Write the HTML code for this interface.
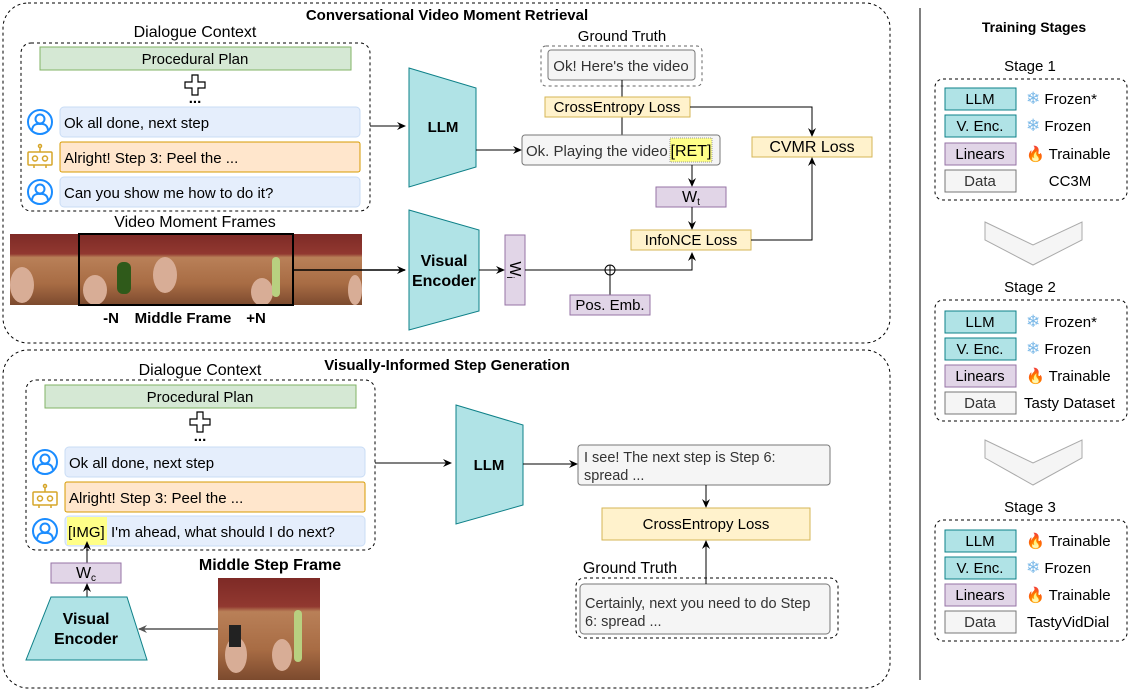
<html><head><style>body{margin:0;background:#fff}svg{display:block}text{font-family:"Liberation Sans",sans-serif}</style></head><body>
<svg width="1144" height="691" viewBox="0 0 1144 691" xmlns="http://www.w3.org/2000/svg">
<defs>
<marker id="a" markerWidth="10" markerHeight="10" refX="8" refY="5" orient="auto" markerUnits="userSpaceOnUse"><path d="M0,1 L9,5 L0,9 L3,5 z" fill="#000"/></marker>
<marker id="g" markerWidth="10" markerHeight="10" refX="8" refY="5" orient="auto" markerUnits="userSpaceOnUse"><path d="M0,1 L9,5 L0,9 L3,5 z" fill="#555"/></marker>
<linearGradient id="wood" x1="0" y1="0" x2="0" y2="1"><stop offset="0" stop-color="#7e2a26"/><stop offset="0.28" stop-color="#913830"/><stop offset="0.33" stop-color="#b98058"/><stop offset="0.7" stop-color="#a86c44"/><stop offset="1" stop-color="#7c4a2e"/></linearGradient>
<g id="user"><circle r="12" fill="none" stroke="#1a8cff" stroke-width="2"/><circle cy="-3" r="4.5" fill="none" stroke="#1a8cff" stroke-width="2"/><path d="M-8,8 Q-7,1 0,2 Q7,1 8,8" fill="none" stroke="#1a8cff" stroke-width="2"/></g>
<g id="bot" fill="none" stroke="#d6a528" stroke-width="1.5"><rect x="-12" y="-5" width="24" height="13" rx="1"/><circle cx="-5" cy="1.5" r="2.5"/><circle cx="5" cy="1.5" r="2.5"/><line x1="0" y1="-5" x2="0" y2="-10"/><circle cx="0" cy="-11" r="1.5"/><line x1="-6" y1="8" x2="-6" y2="11"/><line x1="6" y1="8" x2="6" y2="11"/></g>
<g id="plus"><path d="M-3,-10 h6 v7 h7 v6 h-7 v7 h-6 v-7 h-7 v-6 h7 z" fill="#fff" stroke="#000" stroke-width="1.2"/></g>
</defs>
<g font-size="15">
<!-- TOP -->
<rect x="3" y="3" width="887" height="340" rx="25" fill="none" stroke="#000" stroke-dasharray="3,3"/>
<text x="447" y="20" font-weight="bold" font-size="15" text-anchor="middle">Conversational Video Moment Retrieval</text>
<text x="195" y="37" text-anchor="middle" font-size="16">Dialogue Context</text>
<rect x="21" y="43" width="349" height="168" rx="10" fill="none" stroke="#000" stroke-dasharray="3,3"/>
<rect x="40" y="47" width="311" height="23" fill="#d5e8d4" stroke="#82b366"/>
<text x="195" y="64" text-anchor="middle">Procedural Plan</text>
<use href="#plus" x="195" y="85"/><text x="195" y="103" text-anchor="middle" font-weight="bold">...</text>
<use href="#user" x="40" y="122"/>
<rect x="60" y="107" width="300" height="30" rx="4" fill="#e5eefc" stroke="#c9dcf5"/><text x="64" y="128">Ok all done, next step</text>
<use href="#bot" x="40" y="157"/>
<rect x="60" y="142" width="300" height="30" rx="2" fill="#ffe6cc" stroke="#d79b00"/><text x="64" y="163">Alright! Step 3: Peel the ...</text>
<use href="#user" x="40" y="192"/>
<rect x="60" y="177" width="300" height="30" rx="4" fill="#e5eefc" stroke="#c9dcf5"/><text x="64" y="198">Can you show me how to do it?</text>
<line x1="370" y1="126" x2="405" y2="126" stroke="#000" marker-end="url(#a)"/>
<path d="M409,68 L476,88 L476,167 L409,187 z" fill="#b0e3e6" stroke="#0e8088"/>
<text x="443" y="132" text-anchor="middle" font-weight="bold" font-size="15">LLM</text>
<text x="195" y="227" text-anchor="middle" font-size="16">Video Moment Frames</text>
<rect x="10" y="234" width="352" height="71" fill="url(#wood)"/>
<g fill="#d8ad96"><ellipse cx="22" cy="285" rx="12" ry="18"/><ellipse cx="95" cy="290" rx="12" ry="15"/><ellipse cx="165" cy="275" rx="12" ry="18"/><ellipse cx="262" cy="292" rx="11" ry="14"/><ellipse cx="355" cy="290" rx="7" ry="15"/></g>
<rect x="117" y="262" width="14" height="32" rx="6" fill="#2f5a1a"/><rect x="272" y="257" width="8" height="40" rx="4" fill="#b8d080"/>
<rect x="79" y="234" width="214" height="71" fill="none" stroke="#000" stroke-width="2"/>
<text x="111" y="323" text-anchor="middle" font-weight="bold">-N</text>
<text x="183" y="323" text-anchor="middle" font-weight="bold">Middle Frame</text>
<text x="256" y="323" text-anchor="middle" font-weight="bold">+N</text>
<line x1="293" y1="270" x2="405" y2="270" stroke="#000" stroke-width="1.5" marker-end="url(#a)"/>
<path d="M409,210 L479,230 L479,311 L409,330 z" fill="#b0e3e6" stroke="#0e8088"/>
<text x="444" y="266" text-anchor="middle" font-weight="bold" font-size="16">Visual</text>
<text x="444" y="286" text-anchor="middle" font-weight="bold" font-size="16">Encoder</text>
<line x1="479" y1="270" x2="504" y2="270" stroke="#000" marker-end="url(#a)"/>
<rect x="505" y="235" width="20" height="70" fill="#e1d5e7" stroke="#9673a6"/>
<text x="0" y="0" transform="translate(510,270) rotate(90)" text-anchor="middle" font-size="16">W<tspan font-size="10" dy="3">i</tspan></text>
<path d="M525,270 H692 V253" fill="none" stroke="#000" marker-end="url(#a)"/>
<circle cx="610" cy="270" r="5" fill="#fff" stroke="#000"/><path d="M605,270h10M610,265v10" stroke="#000"/>
<line x1="610" y1="275" x2="610" y2="295" stroke="#000"/>
<rect x="570" y="295" width="80" height="20" fill="#e1d5e7" stroke="#9673a6"/><text x="610" y="310" text-anchor="middle">Pos. Emb.</text>
<text x="622" y="41" text-anchor="middle" font-size="15">Ground Truth</text>
<rect x="541" y="46" width="161" height="40" rx="5" fill="none" stroke="#666" stroke-dasharray="3,3"/>
<rect x="548" y="50" width="147" height="30" rx="3" fill="#f5f5f5" stroke="#777"/><text x="621" y="71" text-anchor="middle" fill="#333">Ok! Here's the video</text>
<line x1="622" y1="80" x2="622" y2="135" stroke="#000"/>
<rect x="545" y="97" width="145" height="20" fill="#fff2cc" stroke="#d6b656"/><text x="617" y="112" text-anchor="middle">CrossEntropy Loss</text>
<line x1="476" y1="150" x2="521" y2="150" stroke="#000" marker-end="url(#a)"/>
<rect x="522" y="135" width="198" height="30" rx="3" fill="#f5f5f5" stroke="#777"/>
<rect x="670" y="138" width="42" height="24" fill="#ffff88" stroke="#999" stroke-dasharray="1,1"/>
<text x="526" y="156" fill="#333">Ok. Playing the video</text><text x="691" y="156" text-anchor="middle" font-size="16">[RET]</text>
<path d="M690,107 H812 V136" fill="none" stroke="#000" marker-end="url(#a)"/>
<rect x="752" y="137" width="120" height="20" fill="#fff2cc" stroke="#d6b656"/><text x="812" y="152" text-anchor="middle" font-size="16">CVMR Loss</text>
<line x1="692" y1="165" x2="692" y2="186" stroke="#000" marker-end="url(#a)"/>
<rect x="656" y="187" width="70" height="20" fill="#e1d5e7" stroke="#9673a6"/><text x="691" y="202" text-anchor="middle" font-size="16">W<tspan font-size="10" dy="3">t</tspan></text>
<line x1="692" y1="207" x2="692" y2="229" stroke="#000" marker-end="url(#a)"/>
<rect x="631" y="230" width="120" height="20" fill="#fff2cc" stroke="#d6b656"/><text x="691" y="245" text-anchor="middle">InfoNCE Loss</text>
<path d="M751,240 H812 V158" fill="none" stroke="#000" marker-end="url(#a)"/>
<!-- BOTTOM -->
<rect x="3" y="350" width="887" height="338" rx="25" fill="none" stroke="#000" stroke-dasharray="3,3"/>
<text x="447" y="370" font-weight="bold" font-size="15" text-anchor="middle">Visually-Informed Step Generation</text>
<text x="200" y="375" text-anchor="middle" font-size="16">Dialogue Context</text>
<rect x="26" y="380" width="349" height="170" rx="10" fill="none" stroke="#000" stroke-dasharray="3,3"/>
<rect x="45" y="385" width="311" height="23" fill="#d5e8d4" stroke="#82b366"/><text x="200" y="402" text-anchor="middle">Procedural Plan</text>
<use href="#plus" x="200" y="422"/><text x="200" y="441" text-anchor="middle" font-weight="bold">...</text>
<use href="#user" x="45" y="462"/>
<rect x="65" y="447" width="300" height="30" rx="4" fill="#e5eefc" stroke="#c9dcf5"/><text x="69" y="468">Ok all done, next step</text>
<use href="#bot" x="45" y="497"/>
<rect x="65" y="482" width="300" height="30" rx="2" fill="#ffe6cc" stroke="#d79b00"/><text x="69" y="503">Alright! Step 3: Peel the ...</text>
<use href="#user" x="45" y="531"/>
<rect x="65" y="516" width="300" height="30" rx="4" fill="#e5eefc" stroke="#c9dcf5"/>
<rect x="67" y="517" width="40" height="28" fill="#ffff88"/>
<text x="68" y="537" font-size="15">[IMG]</text><text x="111" y="537">I'm ahead, what should I do next?</text>
<line x1="375" y1="463" x2="451" y2="463" stroke="#000" marker-end="url(#a)"/>
<path d="M456,405 L523,425 L523,505 L456,524 z" fill="#b0e3e6" stroke="#0e8088"/>
<text x="489" y="470" text-anchor="middle" font-weight="bold" font-size="15">LLM</text>
<line x1="523" y1="464" x2="577" y2="464" stroke="#000" marker-end="url(#a)"/>
<rect x="578" y="445" width="252" height="40" rx="3" fill="#f5f5f5" stroke="#777"/>
<text x="584" y="462" fill="#333" font-size="14.5">I see! The next step is Step 6:</text><text x="584" y="480" fill="#333" font-size="14.5">spread ...</text>
<line x1="706" y1="485" x2="706" y2="507" stroke="#000" marker-end="url(#a)"/>
<rect x="602" y="508" width="208" height="32" fill="#fff2cc" stroke="#d6b656"/><text x="706" y="529" text-anchor="middle">CrossEntropy Loss</text>
<text x="630" y="573" text-anchor="middle" font-size="16">Ground Truth</text>
<rect x="576" y="578" width="262" height="60" rx="8" fill="none" stroke="#000" stroke-dasharray="3,3"/>
<rect x="580" y="584" width="250" height="50" rx="4" fill="#f5f5f5" stroke="#777"/>
<text x="585" y="608" fill="#333" font-size="14.5">Certainly, next you need to do Step</text><text x="585" y="626" fill="#333" font-size="14.5">6: spread ...</text>
<line x1="706" y1="584" x2="706" y2="541" stroke="#000" marker-end="url(#a)"/>
<line x1="87" y1="563" x2="87" y2="542" stroke="#000" marker-end="url(#a)"/>
<rect x="51" y="563" width="70" height="20" fill="#e1d5e7" stroke="#9673a6"/><text x="86" y="578" text-anchor="middle" font-size="16">W<tspan font-size="10" dy="3">c</tspan></text>
<line x1="87" y1="597" x2="87" y2="584" stroke="#000" marker-end="url(#a)"/>
<path d="M51,597 L127,597 L147,660 L26,660 z" fill="#b0e3e6" stroke="#0e8088"/>
<text x="86" y="624" text-anchor="middle" font-weight="bold" font-size="16">Visual</text><text x="86" y="644" text-anchor="middle" font-weight="bold" font-size="16">Encoder</text>
<text x="270" y="570" text-anchor="middle" font-weight="bold" font-size="16">Middle Step Frame</text>
<rect x="218" y="578" width="102" height="102" fill="url(#wood)"/>
<ellipse cx="236" cy="655" rx="11" ry="18" fill="#d8ad96"/><ellipse cx="282" cy="655" rx="10" ry="16" fill="#d8ad96"/>
<rect x="229" y="625" width="12" height="22" fill="#222"/><rect x="294" y="610" width="8" height="52" rx="4" fill="#b8d080"/>
<line x1="218" y1="629" x2="139" y2="629" stroke="#555" stroke-width="1.5" marker-end="url(#g)"/>
<!-- RIGHT -->
<line x1="920" y1="8" x2="920" y2="680" stroke="#000"/>
<text x="1034" y="32" text-anchor="middle" font-weight="bold" font-size="14">Training Stages</text>
<text x="1030" y="71" text-anchor="middle">Stage 1</text>
<rect x="935" y="79" width="192" height="121" rx="8" fill="none" stroke="#000" stroke-dasharray="3,3"/>
<rect x="945" y="88" width="71" height="22" fill="#b0e3e6" stroke="#0e8088"/><text x="980" y="104" text-anchor="middle">LLM</text>
<rect x="945" y="115" width="71" height="22" fill="#b0e3e6" stroke="#0e8088"/><text x="980" y="131" text-anchor="middle">V. Enc.</text>
<rect x="945" y="143" width="71" height="22" fill="#e1d5e7" stroke="#9673a6"/><text x="980" y="159" text-anchor="middle">Linears</text>
<rect x="945" y="170" width="71" height="22" fill="#f5f5f5" stroke="#777"/><text x="980" y="186" text-anchor="middle" fill="#333">Data</text>
<text x="1026" y="104"><tspan fill="#7ab8e8" font-size="17">❄</tspan> Frozen*</text>
<text x="1026" y="131"><tspan fill="#7ab8e8" font-size="17">❄</tspan> Frozen</text>
<text x="1026" y="159"><tspan fill="#f06020">🔥</tspan> Trainable</text>
<text x="1070" y="186" text-anchor="middle">CC3M</text>
<path d="M985,222 L1033,245 L1082,222 L1082,240 L1033,265 L985,240 z" fill="#f5f5f5" stroke="#aaa"/>
<text x="1030" y="292" text-anchor="middle">Stage 2</text>
<rect x="935" y="300" width="192" height="121" rx="8" fill="none" stroke="#000" stroke-dasharray="3,3"/>
<rect x="945" y="311" width="71" height="22" fill="#b0e3e6" stroke="#0e8088"/><text x="980" y="327" text-anchor="middle">LLM</text>
<rect x="945" y="338" width="71" height="22" fill="#b0e3e6" stroke="#0e8088"/><text x="980" y="354" text-anchor="middle">V. Enc.</text>
<rect x="945" y="365" width="71" height="22" fill="#e1d5e7" stroke="#9673a6"/><text x="980" y="381" text-anchor="middle">Linears</text>
<rect x="945" y="392" width="71" height="22" fill="#f5f5f5" stroke="#777"/><text x="980" y="408" text-anchor="middle" fill="#333">Data</text>
<text x="1026" y="327"><tspan fill="#7ab8e8" font-size="17">❄</tspan> Frozen*</text>
<text x="1026" y="354"><tspan fill="#7ab8e8" font-size="17">❄</tspan> Frozen</text>
<text x="1026" y="381"><tspan fill="#f06020">🔥</tspan> Trainable</text>
<text x="1024" y="408">Tasty Dataset</text>
<path d="M985,440 L1033,463 L1082,440 L1082,458 L1033,485 L985,458 z" fill="#f5f5f5" stroke="#aaa"/>
<text x="1030" y="512" text-anchor="middle">Stage 3</text>
<rect x="935" y="520" width="192" height="121" rx="8" fill="none" stroke="#000" stroke-dasharray="3,3"/>
<rect x="945" y="530" width="71" height="22" fill="#b0e3e6" stroke="#0e8088"/><text x="980" y="546" text-anchor="middle">LLM</text>
<rect x="945" y="557" width="71" height="22" fill="#b0e3e6" stroke="#0e8088"/><text x="980" y="573" text-anchor="middle">V. Enc.</text>
<rect x="945" y="584" width="71" height="22" fill="#e1d5e7" stroke="#9673a6"/><text x="980" y="600" text-anchor="middle">Linears</text>
<rect x="945" y="611" width="71" height="22" fill="#f5f5f5" stroke="#777"/><text x="980" y="627" text-anchor="middle" fill="#333">Data</text>
<text x="1026" y="546"><tspan fill="#f06020">🔥</tspan> Trainable</text>
<text x="1026" y="573"><tspan fill="#7ab8e8" font-size="17">❄</tspan> Frozen</text>
<text x="1026" y="600"><tspan fill="#f06020">🔥</tspan> Trainable</text>
<text x="1027" y="627">TastyVidDial</text>
</g>
</svg>
</body></html>
